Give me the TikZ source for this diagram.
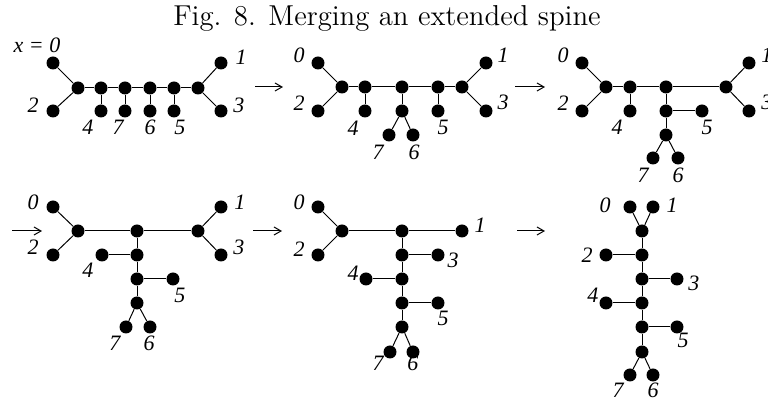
\documentclass[tikz,border=0pt]{standalone}
\usepackage{fontspec}
\newfontfamily\lblfont{Liberation Serif}
\usetikzlibrary{arrows.meta}

\begin{document}
\begin{tikzpicture}[x=0.5pt, y=-0.5pt,
  dot/.style={circle, fill=black, inner sep=0pt, minimum size=6.5pt},
  lbl/.style={inner sep=0pt, font=\lblfont\itshape\fontsize{11}{13}\selectfont},
  link/.style={line width=0.5pt},
  arr/.style={-{Straight Barb[length=3.5pt, width=4pt]}, line width=0.5pt}
]
\useasboundingbox (0,0) rectangle (768,406);

% Title
\node[anchor=base, font=\fontsize{14.4}{17}\selectfont] (title) at (387,26)
  {Fig. 8. Merging an extended spine};

% Panel a: extended spine
\foreach \n/\x/\y in {0/53/63, 2/53/111, L/78/88, p4/101/88, p7/125/88,
    p6/150/88, p5/174/88, R/198/88, 1/221/63, 3/221/111,
    4/101/111, 7/125/111, 6/150/111, 5/174/111}
  \node[dot] (a\n) at (\x,\y) {};
\foreach \s/\t in {0/L, 2/L, L/p4, p4/p7, p7/p6, p6/p5, p5/R, R/1, R/3,
    p4/4, p7/7, p6/6, p5/5}
  \draw[link] (a\s) -- (a\t);
\foreach \n/\x/\y in {2/33/105, 1/241/57, 3/239/105, 4/88/127, 7/118/127,
    6/150/127, 5/180/127}
  \node[lbl] (al\n) at (\x,\y) {\n};
\node[lbl] (al0) at (37,45) {x = 0};

% Arrow a -> b
\coordinate (ab1) at (255,87);
\coordinate (ab2) at (283,87);
\draw[arr] (ab1) -- (ab2);

% Panel b
\foreach \n/\x/\y in {0/318/63, 2/318/111, L/342/87, p4/365/87, m/402/87,
    p5/438/87, R/462/87, 1/486/63, 3/486/111, 4/365/111, q/402/111,
    7/389/135, 6/413/135, 5/438/111}
  \node[dot] (b\n) at (\x,\y) {};
\foreach \s/\t in {0/L, 2/L, L/p4, p4/m, m/p5, p5/R, R/1, R/3, p4/4,
    m/q, q/7, q/6, p5/5}
  \draw[link] (b\s) -- (b\t);
\foreach \n/\x/\y in {0/299/55, 2/299/103, 4/353/128, 7/378/152, 6/414/152,
    5/443/127, 1/503/55, 3/503/102}
  \node[lbl] (bl\n) at (\x,\y) {\n};

% Arrow b -> c
\coordinate (bc1) at (515,87);
\coordinate (bc2) at (545,87);
\draw[arr] (bc1) -- (bc2);

% Panel c
\foreach \n/\x/\y in {0/582/63, 2/582/111, L/606/87, p4/630/87, m/666/87,
    R/726/87, 1/749/63, 3/749/111, 4/630/111, q/666/111, 5/702/111,
    r/666/135, 7/653/158, 6/678/158}
  \node[dot] (c\n) at (\x,\y) {};
\foreach \s/\t in {0/L, 2/L, L/p4, p4/m, m/R, R/1, R/3, p4/4, m/q, q/5,
    q/r, r/7, r/6}
  \draw[link] (c\s) -- (c\t);
\foreach \n/\x/\y in {0/563/55, 2/563/103, 4/617/127, 5/707/127, 7/643/175,
    6/678/175, 1/767/55, 3/767/102}
  \node[lbl] (cl\n) at (\x,\y) {\n};

% Arrow into d
\coordinate (cd1) at (12,231);
\coordinate (cd2) at (42,231);
\draw[arr] (cd1) -- (cd2);

% Panel d
\foreach \n/\x/\y in {0/53/207, 2/53/255, L/78/231, m/137/231, R/198/231,
    1/221/207, 3/221/255, q/137/255, 4/102/255, r/137/279, 5/173/279,
    s/137/303, 7/126/327, 6/150/327}
  \node[dot] (d\n) at (\x,\y) {};
\foreach \s/\t in {0/L, 2/L, L/m, m/R, R/1, R/3, m/q, q/r, r/s, q/4, r/5,
    s/7, s/6}
  \draw[link] (d\s) -- (d\t);
\foreach \n/\x/\y in {0/33/202, 2/33/247, 1/240/202, 3/239/247, 4/88/270,
    5/180/295, 7/115/343, 6/149/343}
  \node[lbl] (dl\n) at (\x,\y) {\n};

% Arrow d -> e
\coordinate (de1) at (253,231);
\coordinate (de2) at (282,231);
\draw[arr] (de1) -- (de2);

% Panel e
\foreach \n/\x/\y in {0/318/207, 2/318/255, L/342/231, m/402/231,
    1/462/231, q/402/255, 3/438/255, r/402/279, 4/366/279, s/402/303,
    5/438/303, t/402/327, 7/390/352, 6/413/352}
  \node[dot] (e\n) at (\x,\y) {};
\foreach \s/\t in {0/L, 2/L, L/m, m/1, m/q, q/r, r/s, s/t, q/3, r/4, s/5,
    t/7, t/6}
  \draw[link] (e\s) -- (e\t);
\foreach \n/\x/\y in {0/299/202, 2/299/249, 1/480/225, 3/453/260,
    4/353/273, 5/443/318, 7/378/363, 6/413/363}
  \node[lbl] (el\n) at (\x,\y) {\n};

% Arrow e -> f
\coordinate (ef1) at (517,231);
\coordinate (ef2) at (545,231);
\draw[arr] (ef1) -- (ef2);

% Panel f: merged spine
\foreach \n/\x/\y in {0/630/207, 1/653/207, t/642/231, a/642/255,
    2/606/255, b/642/279, 3/677/279, c/642/303, 4/606/303, d/642/327,
    5/677/327, e/642/352, 7/630/375, 6/653/375}
  \node[dot] (f\n) at (\x,\y) {};
\foreach \s/\t in {0/t, 1/t, t/a, a/b, b/c, c/d, d/e, a/2, b/3, c/4, d/5,
    e/7, e/6}
  \draw[link] (f\s) -- (f\t);
\foreach \n/\x/\y in {0/605/205, 1/672/205, 2/587/255, 3/694/283,
    4/593/295, 5/683/340, 7/618/390, 6/653/390}
  \node[lbl] (fl\n) at (\x,\y) {\n};
\end{tikzpicture}
\end{document}
